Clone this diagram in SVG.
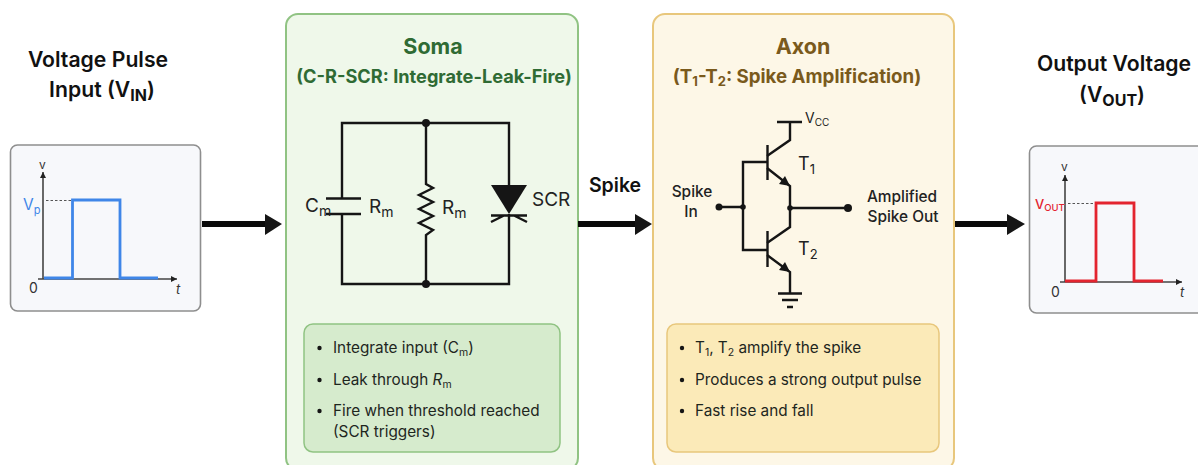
<svg xmlns="http://www.w3.org/2000/svg" width="1198" height="465" viewBox="0 0 1198 465">
<style>
text{font-family:"Inter","Liberation Sans",sans-serif;fill:#1f2321}
.h{font-size:21.200px;font-weight:600;text-anchor:middle;fill:#111}
.w{fill:none;stroke:#151515;stroke-width:2.4;stroke-linejoin:miter}
.ax{fill:none;stroke:#444;stroke-width:1.6}
.lb{font-size:19px;fill:#222}
.sl{font-size:15.300px;fill:#1e261e}
.gl{font-size:15.400px;font-weight:500;fill:#222}
.b{fill:#151515}
.flow{stroke:#0a0a0a;stroke-width:6;fill:none}
</style>
<defs>
<marker id="ah" markerUnits="userSpaceOnUse" markerWidth="8" markerHeight="8" refX="6" refY="3" orient="auto"><path d="M0 0L6 3L0 6z" fill="#222"/></marker>
</defs>
<rect width="1198" height="465" fill="#fff"/>

<g id="input">
<text class="h" x="98" y="67">Voltage Pulse</text>
<text class="h" x="102" y="97">Input (V<tspan font-size="16" dy="4" font-weight="700">IN</tspan><tspan dy="-4">)</tspan></text>
<rect x="10.500" y="145" width="190" height="166" rx="7" fill="#f7f8fb" stroke="#8e8e8e" stroke-width="1.600"/>
<path class="ax" d="M43 279V172" marker-end="url(#ah)"/>
<path class="ax" d="M38 279H177" marker-end="url(#ah)"/>
<path d="M44 278H72.500V200H120V278H158" fill="none" stroke="#3f86e8" stroke-width="2.800"/>
<path d="M46 200.500H71" stroke="#555" stroke-width="1" stroke-dasharray="2.500 2" fill="none"/>
<text x="39" y="169" font-size="12" text-anchor="start" style="fill:#333">v</text>
<text x="23" y="210" font-size="15.500" style="fill:#3f86e8">V<tspan font-size="11" dy="4">p</tspan></text>
<text x="29" y="293" font-size="14" style="fill:#333">0</text>
<text x="176" y="294" font-size="13" font-style="italic" style="fill:#333">t</text>
</g>

<g id="soma">
<rect x="286" y="14" width="292" height="456" rx="12" fill="#eff8ea" stroke="#90c383" stroke-width="2"/>
<text x="433" y="54" font-size="21.500" font-weight="700" text-anchor="middle" style="fill:#2f6b34">Soma</text>
<text x="434" y="83" font-size="18.200" font-weight="700" text-anchor="middle" style="fill:#2f6b34">(C-R-SCR: Integrate-Leak-Fire)</text>
<path class="w" d="M342 198V123H509V185M509 214V284H342V214"/>
<path class="w" d="M326 198.500H361M326 214H361"/>
<path class="w" d="M426 123V184L433 188L419 195L433 202L419 209L433 216L419 223L433 230L426 235V284"/>
<path class="b" d="M491 185H527L509 214z"/>
<path class="w" d="M491 215.500H527M491 222L504 215.500M527 222L514 215.500"/>
<circle class="b" cx="426" cy="123" r="4"/>
<circle class="b" cx="426" cy="284" r="4"/>
<text class="lb" x="305" y="212">C<tspan font-size="14" dy="4">m</tspan></text>
<text class="lb" x="369" y="213">R<tspan font-size="14" dy="4">m</tspan></text>
<text class="lb" x="442" y="214">R<tspan font-size="14" dy="4">m</tspan></text>
<text class="lb" x="532" y="206">SCR</text>
<rect x="304" y="324" width="256" height="128" rx="9" fill="#d6ebcd" stroke="#90c383" stroke-width="1.500"/>
<circle class="b" cx="319.500" cy="348" r="2.200"/>
<circle class="b" cx="319.500" cy="380" r="2.200"/>
<circle class="b" cx="319.500" cy="411" r="2.200"/>
<text class="sl" x="333" y="353">Integrate input (C<tspan font-size="10.500" dy="3">m</tspan><tspan dy="-3">)</tspan></text>
<text class="sl" x="333" y="385">Leak through <tspan font-style="italic">R</tspan><tspan font-size="10.500" dy="3">m</tspan></text>
<text class="sl" x="333" y="416">Fire when threshold reached</text>
<text class="sl" x="333" y="437">(SCR triggers)</text>
</g>

<g id="axon">
<rect x="653" y="14" width="301" height="456" rx="12" fill="#fdf7e7" stroke="#e8c77c" stroke-width="2"/>
<text x="803" y="54" font-size="21.500" font-weight="700" text-anchor="middle" style="fill:#7a5a1c">Axon</text>
<text x="797" y="83" font-size="18.700" font-weight="700" text-anchor="middle" style="fill:#7a5a1c">(T<tspan font-size="13" dy="3">1</tspan><tspan dy="-3">-T</tspan><tspan font-size="13" dy="3">2</tspan><tspan dy="-3">: Spike Amplification)</tspan></text>
<path class="w" d="M777 122H802M790 122V140L767 156"/>
<path class="w" d="M767.500 145V180M767.500 162H743V250H767.500M767.500 231V267"/>
<path class="w" d="M767 168L790 186V227L767 243"/>
<path class="w" d="M767 255L790 272V293M778 293.500H802M782 300H798M787 307H793"/>
<path class="w" d="M719 207H743M790 208H848"/>
<path class="b" d="M790 186L779 184L785 176z"/>
<path class="b" d="M790 272L779 270L785 262z"/>
<circle class="b" cx="719" cy="207" r="3.500"/>
<circle class="b" cx="743" cy="207" r="2.800"/>
<circle class="b" cx="790" cy="208" r="2.800"/>
<circle class="b" cx="848" cy="208" r="4"/>
<text x="805" y="123" font-size="14" style="fill:#222">V<tspan font-size="10" dy="3">CC</tspan></text>
<text x="798" y="170" font-size="18" style="fill:#222">T<tspan font-size="13" dy="4">1</tspan></text>
<text x="798" y="255" font-size="18" style="fill:#222">T<tspan font-size="13" dy="4">2</tspan></text>
<text class="gl" x="692" y="197" text-anchor="middle">Spike</text>
<text class="gl" x="691" y="217" text-anchor="middle">In</text>
<text class="gl" x="902" y="202" text-anchor="middle">Amplified</text>
<text class="gl" x="903" y="222" text-anchor="middle">Spike Out</text>
<rect x="667" y="324" width="272" height="128" rx="9" fill="#fbeab8" stroke="#e8c77c" stroke-width="1.500"/>
<circle class="b" cx="682" cy="348" r="2.200"/>
<circle class="b" cx="682" cy="380" r="2.200"/>
<circle class="b" cx="682" cy="411" r="2.200"/>
<text class="sl" x="695" y="353">T<tspan font-size="10.500" dy="3">1</tspan><tspan dy="-3">, T</tspan><tspan font-size="10.500" dy="3">2</tspan><tspan dy="-3"> amplify the spike</tspan></text>
<text class="sl" x="695" y="385">Produces a strong output pulse</text>
<text class="sl" x="695" y="416">Fast rise and fall</text>
</g>

<g id="output">
<text class="h" x="1114" y="71">Output Voltage</text>
<text class="h" x="1112" y="102">(V<tspan font-size="16" dy="4" font-weight="700">OUT</tspan><tspan dy="-4">)</tspan></text>
<rect x="1029.500" y="146" width="180" height="167" rx="7" fill="#f7f8fb" stroke="#8e8e8e" stroke-width="1.600"/>
<path class="ax" d="M1065 282V175" marker-end="url(#ah)"/>
<path class="ax" d="M1060 282H1182" marker-end="url(#ah)"/>
<path d="M1065 281H1096V203H1134V281H1163" fill="none" stroke="#e3242f" stroke-width="2.800"/>
<path d="M1068 203.500H1095" stroke="#555" stroke-width="1" stroke-dasharray="2.500 2" fill="none"/>
<text x="1061" y="171" font-size="12" style="fill:#333">v</text>
<text x="1035" y="209" font-size="13" font-weight="500" style="fill:#e3242f">V<tspan font-size="9.500" dy="2">OUT</tspan></text>
<text x="1051" y="297" font-size="14" style="fill:#333">0</text>
<text x="1180" y="297" font-size="13" font-style="italic" style="fill:#333">t</text>
</g>

<g id="connectors">
<path class="flow" d="M202 224H266"/><path class="b" d="M265 214L282 224L265 235z"/>
<path class="flow" d="M578 224H636"/><path class="b" d="M635 214L652 224L635 235z"/>
<path class="flow" d="M955 224H1008"/><path class="b" d="M1007 214L1025 224L1007 235z"/>
<text x="615" y="192" font-size="19.500" font-weight="600" text-anchor="middle" style="fill:#111">Spike</text>
</g>
</svg>
